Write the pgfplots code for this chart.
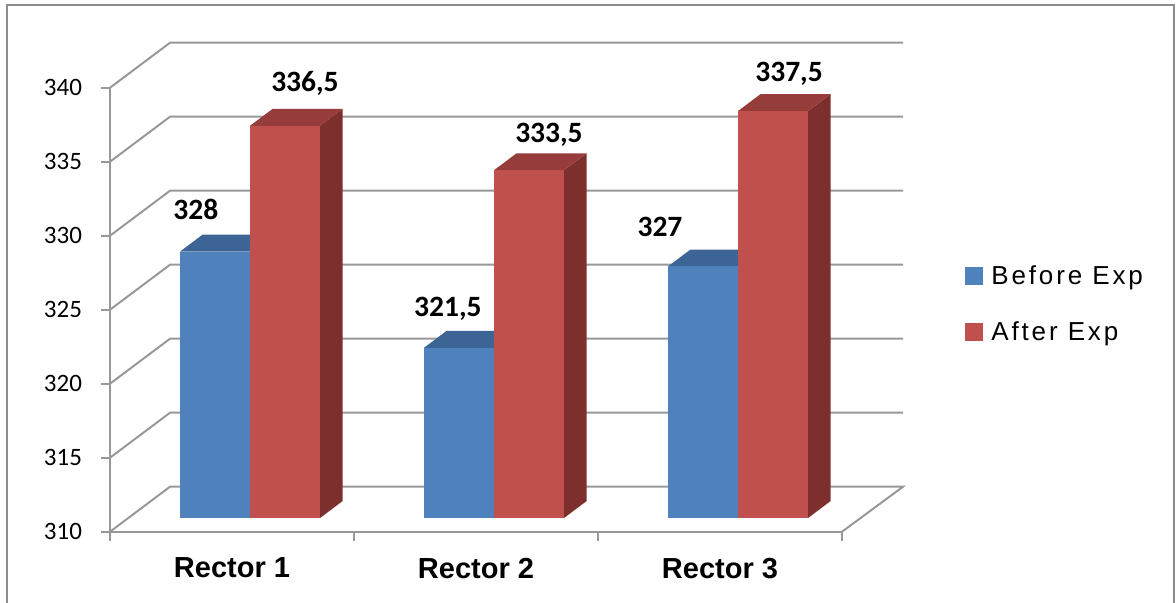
\documentclass[border=0pt]{standalone}
\usepackage{fontspec}
\setmainfont{Liberation Sans}
\newfontfamily\carlito{Carlito}
\newfontfamily\legfont{Liberation Sans}[LetterSpace=11]
\usepackage{pgfplots}
\pgfplotsset{compat=1.18}

\definecolor{bfront}{HTML}{4F81BD}
\definecolor{btop}{HTML}{3C6494}
\definecolor{bside}{HTML}{2F5075}
\definecolor{rfront}{HTML}{C0504D}
\definecolor{rtop}{HTML}{963C3A}
\definecolor{rside}{HTML}{7D2F2E}
\definecolor{gridc}{HTML}{989898}
\definecolor{framec}{HTML}{8C8C8C}

% #1 category, #2 series offset, #3 value, #4 front, #5 top, #6 side colour
\newcommand\DrawBar[6]{%
 \pgfmathsetmacro\xa{#1+(#2)+0.0738}%
 \pgfmathsetmacro\xb{\xa+0.2869}%
 \pgfmathsetmacro\xc{\xb+0.0922}%
 \pgfmathsetmacro\xd{\xa+0.0922}%
 \pgfmathsetmacro\yb{#3+0.926}%
 \pgfmathsetmacro\yc{\yb+1.14}%
 \edef\temp{%
  \noexpand\addplot[fill=#6,draw=none,forget plot] coordinates {(\xb,310.926) (\xc,312.066) (\xc,\yc) (\xb,\yb)} -- cycle;
  \noexpand\addplot[fill=#5,draw=none,forget plot] coordinates {(\xa,\yb) (\xb,\yb) (\xc,\yc) (\xd,\yc)} -- cycle;
  \noexpand\addplot[fill=#4,draw=none,forget plot] coordinates {(\xa,310.926) (\xb,310.926) (\xb,\yb) (\xa,\yb)} -- cycle;
 }\temp}

\begin{document}
\begin{tikzpicture}
\useasboundingbox (0,0) rectangle (588pt,-301pt);
\draw[framec, line width=1.3pt] (3.5pt,-302pt) -- (3.5pt,-2.5pt) -- (587pt,-2.5pt) -- (587pt,-302pt);
\begin{axis}[
 at={(55pt,-265.85pt)}, anchor=south west,
 width=366pt, height=222pt, scale only axis,
 xmin=-0.5, xmax=2.5, ymin=310, ymax=340,
 clip=false,
 axis x line*=bottom, axis y line*=left,
 axis line style={gridc, line width=1pt},
 ytick={310,315,...,340},
 xtick={-0.5,0.5,1.5,2.5},
 xticklabels={,,,},
 extra x ticks={0,1,2},
 extra x tick labels={Rector 1,Rector 2,Rector 3},
 extra x tick style={major tick length=0pt, tick style={draw=none}},
 tick align=outside,
 major tick length=4.5pt,
 tick style={gridc, line width=1pt},
 /pgf/number format/assume math mode=true,
 yticklabel style={font=\carlito\fontsize{12.5}{15}\selectfont, xshift=-6pt},
 xticklabel style={font=\bfseries\fontsize{14.5}{17}\selectfont, yshift=-9.5pt},
 legend style={at={(1.168,0.512)}, anchor=west, draw=none, fill=none, inner sep=0pt,
   font=\legfont\fontsize{13}{15}\selectfont, row sep=13pt},
 legend cell align=left,
 legend image code/.code={\fill[#1] (0pt,-4.5pt) rectangle (9pt,4.5pt); \path (11pt,0pt);},
]
% walls and floor
\addplot[gridc, line width=1pt, forget plot] coordinates {(-0.5,310) (-0.254,313.04) (2.75,313.04) (2.5,310)};
\addplot[gridc, line width=1pt, forget plot] coordinates {(-0.5,315) (-0.254,318.04) (2.75,318.04)};
\addplot[gridc, line width=1pt, forget plot] coordinates {(-0.5,320) (-0.254,323.04) (2.75,323.04)};
\addplot[gridc, line width=1pt, forget plot] coordinates {(-0.5,325) (-0.254,328.04) (2.75,328.04)};
\addplot[gridc, line width=1pt, forget plot] coordinates {(-0.5,330) (-0.254,333.04) (2.75,333.04)};
\addplot[gridc, line width=1pt, forget plot] coordinates {(-0.5,335) (-0.254,338.04) (2.75,338.04)};
\addplot[gridc, line width=1pt, forget plot] coordinates {(-0.5,340) (-0.254,343.04) (2.75,343.04)};
% bars: category, offset, value
\DrawBar{0}{-0.2869}{328}{bfront}{btop}{bside}
\DrawBar{0}{0}{336.5}{rfront}{rtop}{rside}
\DrawBar{1}{-0.2869}{321.5}{bfront}{btop}{bside}
\DrawBar{1}{0}{333.5}{rfront}{rtop}{rside}
\DrawBar{2}{-0.2869}{327}{bfront}{btop}{bside}
\DrawBar{2}{0}{337.5}{rfront}{rtop}{rside}
% data labels
\addplot[draw=none, mark=none, forget plot,
  nodes near coords, point meta=explicit symbolic,
  nodes near coords style={anchor=base, inner sep=0pt, text=black, font=\carlito\bfseries\fontsize{14.75}{17}\selectfont}]
 coordinates {(-0.148,331.07) [328] (0.299,339.73) [336,5] (0.885,324.51) [321,5]
              (1.299,336.33) [333,5] (1.754,329.93) [327] (2.283,340.39) [337,5]};
\addlegendimage{fill=bfront, draw=none}
\addlegendentry{Before Exp}
\addlegendimage{fill=rfront, draw=none}
\addlegendentry{After Exp}
\end{axis}
\end{tikzpicture}
\end{document}
